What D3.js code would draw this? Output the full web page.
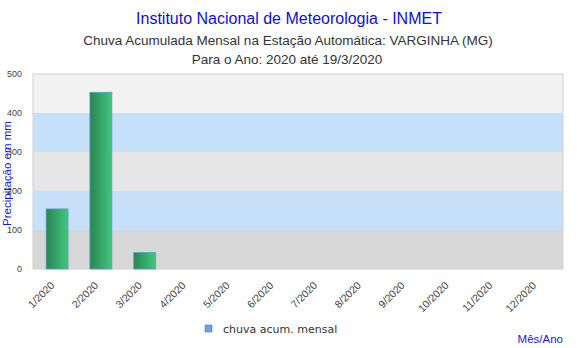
<!DOCTYPE html>
<html>
<head>
<meta charset="utf-8">
<script src="https://cdn.jsdelivr.net/npm/d3@7"></script>
<style>
  body { margin: 0; background: #fff; }
  text { font-family: "Liberation Sans", Arial, sans-serif; }
</style>
</head>
<body>
<div id="chart"></div>
<script>
const months = ["1/2020", "2/2020", "3/2020", "4/2020", "5/2020", "6/2020",
  "7/2020", "8/2020", "9/2020", "10/2020", "11/2020", "12/2020"];
const rain = [154, 453, 42, null, null, null, null, null, null, null, null, null];
const yTicks = [0, 100, 200, 300, 400, 500];
const bandColors = ["#d7d7d7", "#c6e0fa", "#e6e6e6", "#c6e0fa", "#f2f2f2"];

const WIDTH = 578, HEIGHT = 348;
const MARGIN = { TOP: 74, RIGHT: 15, BOTTOM: 79, LEFT: 33 };

const svg = d3.select("#chart").append("svg")
  .attr("width", WIDTH).attr("height", HEIGHT);

const x = d3.scaleBand(months, [MARGIN.LEFT, WIDTH - MARGIN.RIGHT])
  .paddingInner(0.5).paddingOuter(0.3);
const y = d3.scaleLinear([0, 500], [HEIGHT - MARGIN.BOTTOM, MARGIN.TOP]);

const defs = svg.append("defs");
const barGrad = defs.append("linearGradient").attr("id", "barGrad")
  .attr("x1", 0).attr("x2", 1).attr("y1", 0).attr("y2", 0);
barGrad.append("stop").attr("offset", 0).attr("stop-color", "#2a8552");
barGrad.append("stop").attr("offset", 1).attr("stop-color", "#42c77e");

// background bands
svg.append("g").selectAll("rect")
  .data(d3.pairs(yTicks))
  .join("rect")
  .attr("x", MARGIN.LEFT)
  .attr("width", WIDTH - MARGIN.RIGHT - MARGIN.LEFT)
  .attr("y", ([a, b]) => y(b))
  .attr("height", ([a, b]) => y(a) - y(b))
  .attr("fill", (d, i) => bandColors[i]);

svg.append("rect")
  .attr("x", MARGIN.LEFT).attr("y", MARGIN.TOP)
  .attr("width", WIDTH - MARGIN.RIGHT - MARGIN.LEFT)
  .attr("height", y(0) - MARGIN.TOP)
  .attr("fill", "none").attr("stroke", "#d0d0d0");

// bars
svg.append("g").selectAll("rect")
  .data(months.map((m, i) => ({ m, v: rain[i] })).filter(d => d.v != null))
  .join("rect")
  .attr("x", d => x(d.m))
  .attr("width", x.bandwidth())
  .attr("y", d => y(d.v))
  .attr("height", d => y(0) - y(d.v))
  .attr("fill", "url(#barGrad)")
  .attr("stroke", "#4f9fc4")
  .attr("stroke-width", 0.8);

// y axis
const yAxis = svg.append("g")
  .attr("transform", `translate(${MARGIN.LEFT}, 0)`)
  .call(d3.axisLeft(y).tickValues(yTicks).tickSize(0).tickPadding(11));
yAxis.select(".domain").remove();
yAxis.selectAll("text").attr("fill", "#444").style("font-size", "9px");

// x axis
const xAxis = svg.append("g")
  .attr("transform", `translate(0, ${y(0)})`)
  .call(d3.axisBottom(x).tickSize(0).tickPadding(0));
xAxis.select(".domain").remove();
xAxis.selectAll("text")
  .attr("fill", "#444")
  .style("font-size", "10.5px")
  .attr("text-anchor", "end")
  .attr("dy", 0)
  .attr("transform", "translate(-2, 17) rotate(-45)");

// titles
svg.append("text").attr("x", 289).attr("y", 24)
  .attr("text-anchor", "middle").attr("fill", "#1010c8")
  .style("font-size", "16px")
  .text("Instituto Nacional de Meteorologia - INMET");
svg.append("text").attr("x", 288).attr("y", 45)
  .attr("text-anchor", "middle").attr("fill", "#333")
  .style("font-size", "13.5px")
  .text("Chuva Acumulada Mensal na Estação Automática: VARGINHA (MG)");
svg.append("text").attr("x", 287).attr("y", 64)
  .attr("text-anchor", "middle").attr("fill", "#333")
  .style("font-size", "13.5px")
  .text("Para o Ano: 2020 até 19/3/2020");

svg.append("text")
  .attr("transform", `translate(11, ${(MARGIN.TOP + y(0)) / 2 + 2}) rotate(-90)`)
  .attr("text-anchor", "middle").attr("fill", "#1a1acc")
  .style("font-size", "11.5px")
  .text("Precipitação em mm");

// legend
svg.append("rect").attr("x", 205).attr("y", 325)
  .attr("width", 7).attr("height", 7)
  .attr("fill", "#6aa2dc").attr("stroke", "#4a7fb8").attr("stroke-width", 0.6);
svg.append("text").attr("x", 223).attr("y", 333)
  .attr("fill", "#333").style("font-size", "11px")
  .style("font-family", "'DejaVu Sans', Verdana, sans-serif")
  .text("chuva acum. mensal");

svg.append("text").attr("x", 563).attr("y", 343)
  .attr("text-anchor", "end").attr("fill", "#1a1acc")
  .style("font-size", "11.5px")
  .text("Mês/Ano");
</script>
</body>
</html>
